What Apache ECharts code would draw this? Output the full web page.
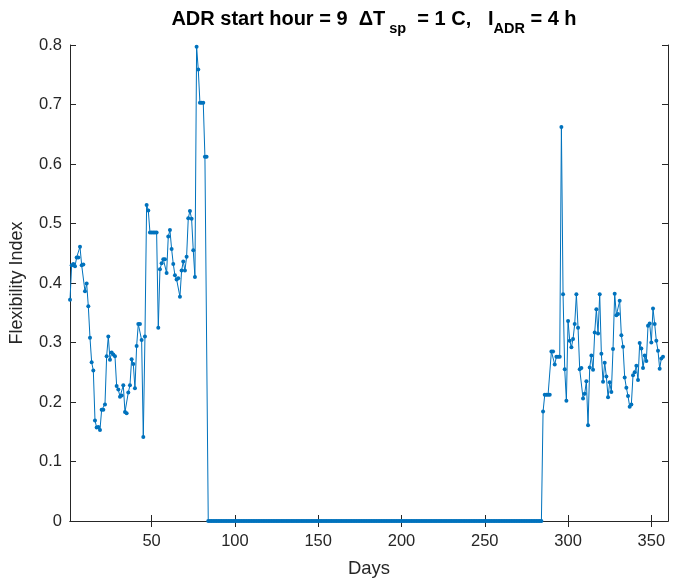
<!DOCTYPE html>
<html>
<head>
<meta charset="utf-8">
<script src="https://cdn.jsdelivr.net/npm/echarts@6/dist/echarts.min.js"></script>
<style>html,body{margin:0;padding:0;background:#fff}#c{width:675px;height:580px}</style>
</head>
<body>
<div id="c"></div>
<script>
// Flexibility index per day (day 1 .. 357)
const firstDay = 1;
const earlyValues = [
  0.372,0.430,0.432,0.428,0.443,0.443,0.461,0.430,0.431,0.386,
  0.399,0.361,0.308,0.267,0.253,0.169,0.157,0.158,0.153,0.187,
  0.187,0.196,0.277,0.310,0.271,0.283,0.280,0.277,0.227,0.221,
  0.209,0.211,0.228,0.183,0.181,0.216,0.228,0.272,0.264,0.223,
  0.294,0.331,0.331,0.304,0.141,0.310,0.531,0.522,0.485,0.485,
  0.485,0.485,0.485,0.325,0.423,0.433,0.440,0.440,0.417,0.478,
  0.489,0.457,0.432,0.413,0.406,0.408,0.377,0.421,0.436,0.421,
  0.444,0.509,0.521,0.508,0.455,0.410,0.797,0.759,0.703,0.703,
  0.703,0.612,0.612
];
const summerValues = [
  0,0,0,0,0,0,0,0,0,0,0,0,0,0,0,0,0,0,0,0,
  0,0,0,0,0,0,0,0,0,0,0,0,0,0,0,0,0,0,0,0,
  0,0,0,0,0,0,0,0,0,0,0,0,0,0,0,0,0,0,0,0,
  0,0,0,0,0,0,0,0,0,0,0,0,0,0,0,0,0,0,0,0,
  0,0,0,0,0,0,0,0,0,0,0,0,0,0,0,0,0,0,0,0,
  0,0,0,0,0,0,0,0,0,0,0,0,0,0,0,0,0,0,0,0,
  0,0,0,0,0,0,0,0,0,0,0,0,0,0,0,0,0,0,0,0,
  0,0,0,0,0,0,0,0,0,0,0,0,0,0,0,0,0,0,0,0,
  0,0,0,0,0,0,0,0,0,0,0,0,0,0,0,0,0,0,0,0,
  0,0,0,0,0,0,0,0,0,0,0,0,0,0,0,0,0,0,0,0,
  0
];
const lateValues = [
  0.184,0.212,0.212,0.212,0.212,0.285,0.285,0.263,0.276,0.276,
  0.276,0.662,0.381,0.255,0.202,0.336,0.303,0.292,0.306,0.331,
  0.381,0.325,0.255,0.257,0.206,0.214,0.235,0.161,0.258,0.278,
  0.254,0.317,0.356,0.315,0.381,0.281,0.234,0.266,0.243,0.208,
  0.233,0.217,0.289,0.382,0.346,0.348,0.370,0.312,0.293,0.241,
  0.224,0.210,0.192,0.196,0.245,0.250,0.261,0.237,0.299,0.290,
  0.257,0.278,0.269,0.328,0.332,0.300,0.357,0.331,0.303,0.286,
  0.256,0.273,0.276
];
const xTicks = [50,100,150,200,250,300,350];
const yTicks = [0,0.1,0.2,0.3,0.4,0.5,0.6,0.7,0.8];

const allValues = earlyValues.concat(summerValues, lateValues);
const seriesData = allValues.map((v, i) => [firstDay + i, v]);

const axisCol = '#262626';
const font = 'Liberation Sans, Arial, Helvetica, sans-serif';
const chart = echarts.init(document.getElementById('c'), null, {renderer: 'canvas'});
const xCommon = {
  type: 'value', min: 1, max: 360,
  axisLine: {show: true, lineStyle: {color: axisCol, width: 1}},
  splitLine: {show: false}
};
const yCommon = {
  type: 'value', min: 0, max: 0.8, interval: 0.1,
  axisLine: {show: true, lineStyle: {color: axisCol, width: 1}},
  splitLine: {show: false}
};
chart.setOption({
  animation: false,
  backgroundColor: '#fff',
  title: {
    left: 374, top: 9, textAlign: 'center', padding: 0,
    text: '{m|ADR start hour = 9  \u0394T}{s| sp}{m|  = 1 C,   I}{s|ADR}{m| = 4 h}',
    textStyle: {
      rich: {
        m: {fontFamily: font, fontWeight: 'bold', fontSize: 20, color: '#000', lineHeight: 27, verticalAlign: 'top'},
        s: {fontFamily: font, fontWeight: 'bold', fontSize: 14.5, color: '#000', lineHeight: 27, verticalAlign: 'bottom'}
      }
    }
  },
  grid: {left: 70, right: 7, top: 45, bottom: 59, containLabel: false, outerBoundsMode: 'none'},
  xAxis: [
    Object.assign({}, xCommon, {
      position: 'bottom',
      name: 'Days', nameLocation: 'middle', nameGap: 38,
      nameTextStyle: {fontFamily: font, fontSize: 18.5, color: axisCol},
      axisTick: {show: true, inside: true, length: 6, lineStyle: {color: axisCol}, customValues: xTicks},
      axisLabel: {show: true, margin: 12, fontFamily: font, fontSize: 16.5, color: axisCol, customValues: xTicks}
    }),
    Object.assign({}, xCommon, {
      position: 'top',
      axisTick: {show: true, inside: true, length: 6, lineStyle: {color: axisCol}, customValues: xTicks},
      axisLabel: {show: false}
    })
  ],
  yAxis: [
    Object.assign({}, yCommon, {
      position: 'left',
      name: 'Flexibility Index', nameLocation: 'middle', nameGap: 44,
      nameTextStyle: {fontFamily: font, fontSize: 18, color: axisCol},
      axisTick: {show: true, inside: true, length: 6, lineStyle: {color: axisCol}},
      axisLabel: {show: true, margin: 8, fontFamily: font, fontSize: 16.5, color: axisCol,
        formatter: v => String(Math.round(v * 10) / 10)}
    }),
    Object.assign({}, yCommon, {
      position: 'right',
      axisTick: {show: true, inside: true, length: 6, lineStyle: {color: axisCol}},
      axisLabel: {show: false}
    })
  ],
  series: [{
    type: 'line',
    xAxisIndex: 0, yAxisIndex: 0,
    data: seriesData,
    symbol: 'circle', symbolSize: 4, showAllSymbol: true,
    lineStyle: {color: '#0072BD', width: 1},
    itemStyle: {color: '#0072BD'},
    clip: false
  }]
});
</script>
</body>
</html>
